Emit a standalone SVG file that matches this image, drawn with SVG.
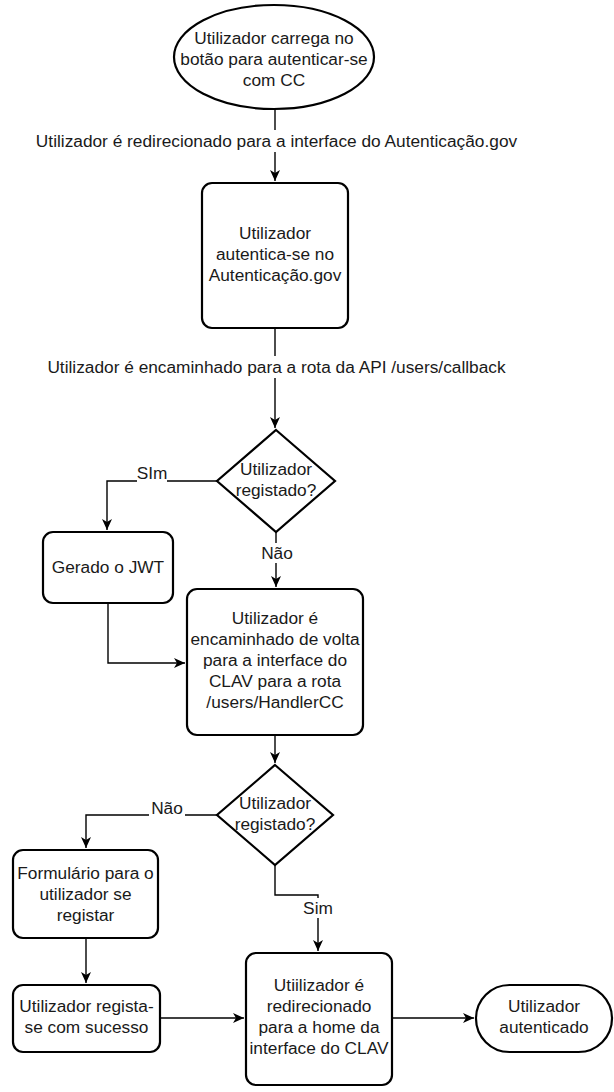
<svg xmlns="http://www.w3.org/2000/svg" width="614" height="1092" viewBox="0 0 614 1092">
<style>
.shape{fill:#fff;stroke:#000;stroke-width:2.2}
.edge{fill:none;stroke:#000;stroke-width:1.4}
text{font-family:"Liberation Sans",Arial,Helvetica,sans-serif;font-size:17.3px;fill:#1a1a1a;text-anchor:middle}
.lbl{fill:#fff;stroke:none}
</style>
<defs>
<marker id="arr" markerUnits="userSpaceOnUse" markerWidth="12" markerHeight="12" viewBox="0 0 12 12" refX="11" refY="6" orient="auto">
<path d="M0,1 L11,6 L0,11 L3,6 z" fill="#000"/>
</marker>
</defs>
<rect width="614" height="1092" fill="#fff"/>
<g id="connectors">
<path class="edge" d="M275,109 V181" marker-end="url(#arr)"/>
<rect class="lbl" x="33" y="130" width="487" height="22"/>
<text x="276.5" y="147">Utilizador é redirecionado para a interface do Autenticação.gov</text>
<path class="edge" d="M275,328 V428" marker-end="url(#arr)"/>
<rect class="lbl" x="44" y="356" width="465" height="22"/>
<text x="276.5" y="373">Utilizador é encaminhado para a rota da API /users/callback</text>
<path class="edge" d="M217,481 H107 V530" marker-end="url(#arr)"/>
<rect class="lbl" x="137" y="464" width="30" height="18"/>
<text x="152" y="479">SIm</text>
<path class="edge" d="M276,532 V587" marker-end="url(#arr)"/>
<rect class="lbl" x="259" y="543" width="36" height="20"/>
<text x="277" y="559">Não</text>
<path class="edge" d="M108,603 V663 H185" marker-end="url(#arr)"/>
<path class="edge" d="M275,735 V763" marker-end="url(#arr)"/>
<path class="edge" d="M217,815 H86 V848" marker-end="url(#arr)"/>
<rect class="lbl" x="149" y="799" width="36" height="18"/>
<text x="167" y="814">Não</text>
<path class="edge" d="M86,938 V983" marker-end="url(#arr)"/>
<path class="edge" d="M275,865 V895 H318 V951" marker-end="url(#arr)"/>
<rect class="lbl" x="302" y="898" width="32" height="20"/>
<text x="318" y="914">Sim</text>
<path class="edge" d="M160,1018 H244" marker-end="url(#arr)"/>
<path class="edge" d="M392,1018 H474" marker-end="url(#arr)"/>
</g>
<g id="start">
<ellipse class="shape" cx="274" cy="57" rx="100" ry="52"/>
<text x="274" y="44">Utilizador carrega no</text>
<text x="274" y="65">botão para autenticar-se</text>
<text x="274" y="86">com CC</text>
</g>
<g id="autentica">
<rect class="shape" x="202" y="183" width="146" height="145" rx="10"/>
<text x="275" y="239">Utilizador</text>
<text x="275" y="260">autentica-se no</text>
<text x="275" y="281">Autenticação.gov</text>
</g>
<g id="decisao1">
<polygon class="shape" points="276,430 335,481 276,532 217,481"/>
<text x="276" y="475">Utilizador</text>
<text x="276" y="496">registado?</text>
</g>
<g id="jwt">
<rect class="shape" x="43" y="532" width="130" height="71" rx="10"/>
<text x="108" y="573">Gerado o JWT</text>
</g>
<g id="handler">
<rect class="shape" x="187" y="589" width="176" height="146" rx="10"/>
<text x="275" y="624">Utilizador é</text>
<text x="275" y="645">encaminhado de volta</text>
<text x="275" y="666">para a interface do</text>
<text x="275" y="687">CLAV para a rota</text>
<text x="275" y="708">/users/HandlerCC</text>
</g>
<g id="decisao2">
<polygon class="shape" points="275,765 333,815 275,865 217,815"/>
<text x="275" y="809">Utilizador</text>
<text x="275" y="830">registado?</text>
</g>
<g id="formulario">
<rect class="shape" x="13" y="850" width="145" height="88" rx="10"/>
<text x="85.5" y="879">Formulário para o</text>
<text x="85.5" y="900">utilizador se</text>
<text x="85.5" y="921">registar</text>
</g>
<g id="regista">
<rect class="shape" x="13" y="985" width="147" height="67" rx="10"/>
<text x="86.5" y="1012">Utilizador regista-</text>
<text x="86.5" y="1033">se com sucesso</text>
</g>
<g id="home">
<rect class="shape" x="246" y="953" width="146" height="132" rx="10"/>
<text x="319" y="991">Utiilizador é</text>
<text x="319" y="1012">redirecionado</text>
<text x="319" y="1033">para a home da</text>
<text x="319" y="1054">interface do CLAV</text>
</g>
<g id="fim">
<rect class="shape" x="476" y="985" width="136" height="67" rx="33.5"/>
<text x="544" y="1012">Utilizador</text>
<text x="544" y="1033">autenticado</text>
</g>
</svg>
